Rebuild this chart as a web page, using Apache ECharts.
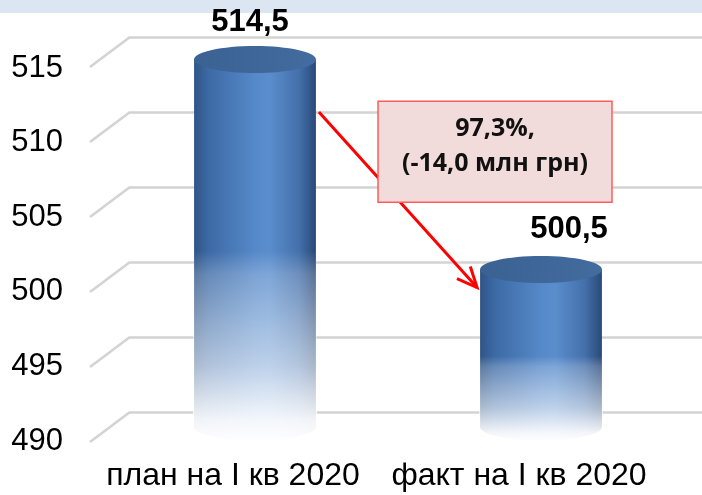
<!DOCTYPE html>
<html>
<head>
<meta charset="utf-8">
<script src="https://cdn.jsdelivr.net/npm/echarts@6/dist/echarts.min.js"></script>
<style>
  html, body { margin: 0; padding: 0; background: #fff; }
  #chart { width: 702px; height: 495px; }
</style>
</head>
<body>
<div id="chart"></div>
<script>
// дані
const categories = ['план на I кв 2020', 'факт на I кв 2020']
const values = [514.5, 500.5]
const valueLabels = ['514,5', '500,5']
const yTicks = [490, 495, 500, 505, 510, 515]
const noteLines = ['97,3%,', '(-14,0 млн грн)']
const arrowFrom = [0, 510]
const arrowTo = [1, 498.3]

// 3D-зсув: передня площина відносно задньої стінки
const DEPTH_X = -40
const DEPTH_Y = 30
const labelShift = [[-5, -8], [28, -11]]

const yMin = yTicks[0]
const yMax = yTicks[yTicks.length - 1]

var myChart = echarts.init(document.getElementById('chart'))

function cylinder (params, api) {
  const i = params.dataIndex
  const top = api.coord([api.value(0), api.value(1)])
  const base = api.coord([api.value(0), yMin])
  const cx = top[0] + DEPTH_X * 0.45
  const cy = top[1] + DEPTH_Y / 2
  const by = base[1] + DEPTH_Y / 2
  const rx = api.size([1, 0])[0] * 0.213
  const ry = 13.5
  const side = new echarts.graphic.LinearGradient(0, 0, 1, 0, [
    { offset: 0, color: '#2f5586' },
    { offset: 0.12, color: '#3c6aa5' },
    { offset: 0.5, color: '#5689c9' },
    { offset: 0.62, color: '#5a8dcc' },
    { offset: 0.86, color: '#4470ab' },
    { offset: 0.95, color: '#33578a' },
    { offset: 1, color: '#2a4a76' }
  ])
  const fade = new echarts.graphic.LinearGradient(0, 0, 0, 1, [
    { offset: 0, color: 'rgba(255,255,255,0)' },
    { offset: 0.5, color: 'rgba(255,255,255,0)' },
    { offset: 0.56, color: 'rgba(255,255,255,0.22)' },
    { offset: 0.8, color: 'rgba(255,255,255,0.6)' },
    { offset: 0.94, color: 'rgba(255,255,255,0.93)' },
    { offset: 1, color: 'rgba(255,255,255,1)' }
  ])
  const cap = new echarts.graphic.LinearGradient(0, 0, 1, 1, [
    { offset: 0, color: '#3a6192' },
    { offset: 1, color: '#436c9f' }
  ])
  return {
    type: 'group',
    children: [
      { type: 'rect', shape: { x: cx - rx, y: cy, width: rx * 2, height: by - cy }, style: { fill: side } },
      { type: 'ellipse', shape: { cx: cx, cy: by, rx: rx, ry: ry }, style: { fill: side } },
      { type: 'rect', shape: { x: cx - rx - 1, y: cy, width: rx * 2 + 2, height: by + ry + 2 - cy }, style: { fill: fade } },
      { type: 'ellipse', shape: { cx: cx, cy: cy, rx: rx, ry: ry }, style: { fill: cap } },
      {
        type: 'text',
        x: cx + labelShift[i][0],
        y: cy - ry + labelShift[i][1],
        style: {
          text: valueLabels[i],
          fill: '#000',
          font: 'bold 31px "Liberation Sans", Arial, sans-serif',
          align: 'center',
          verticalAlign: 'bottom'
        }
      }
    ]
  }
}

function depthLine (params, api) {
  const y = api.coord([0, api.value(1)])[1]
  const x = params.coordSys.x
  return {
    type: 'line',
    shape: { x1: x, y1: y, x2: x + DEPTH_X, y2: y + DEPTH_Y },
    style: { stroke: '#d3d3d3', lineWidth: 2.5 }
  }
}

function arrowNote (params, api) {
  const rx = api.size([1, 0])[0] * 0.213
  const a = api.coord(arrowFrom)
  const b = api.coord(arrowTo)
  const x1 = a[0] + DEPTH_X * 0.45 + rx + 3
  const y1 = a[1]
  const x2 = b[0] + DEPTH_X * 0.45 - rx - 3
  const y2 = b[1]
  const ang = Math.atan2(y2 - y1, x2 - x1)
  const h = 22
  const s = 0.42
  const p1 = [x2 - h * Math.cos(ang - s), y2 - h * Math.sin(ang - s)]
  const p2 = [x2 - h * Math.cos(ang + s), y2 - h * Math.sin(ang + s)]
  const mx = (x1 + x2) / 2 + 97
  const my = (y1 + y2) / 2 - 48
  const bw = 234
  const bh = 101
  return {
    type: 'group',
    children: [
      { type: 'line', shape: { x1: x1, y1: y1, x2: x2, y2: y2 }, style: { stroke: '#ff0000', lineWidth: 3 } },
      { type: 'polyline', shape: { points: [p1, [x2, y2], p2] }, style: { stroke: '#ff0000', lineWidth: 3, fill: null } },
      { type: 'rect', shape: { x: mx - bw / 2, y: my - bh / 2, width: bw, height: bh }, style: { fill: '#f2dcdb', stroke: '#ff5c5c', lineWidth: 1.5 } },
      {
        type: 'text',
        x: mx,
        y: my - 5,
        style: {
          text: noteLines.join('\n'),
          fill: '#111',
          font: 'bold 25px "Open Sans", sans-serif',
          lineHeight: 35,
          align: 'center',
          verticalAlign: 'middle'
        }
      }
    ]
  }
}

myChart.setOption({
  animation: false,
  backgroundColor: '#fff',
  graphic: [
    { type: 'rect', left: 0, top: 0, shape: { width: 702, height: 13 }, style: { fill: '#dce6f2' } }
  ],
  grid: [
    { left: 130, right: 0, top: 37, bottom: 83 }, // задня стінка
    { left: 90, right: 40, top: 68, bottom: 54 } // передня площина (підписи)
  ],
  xAxis: [
    { type: 'category', gridIndex: 0, data: categories, show: false },
    {
      type: 'category',
      gridIndex: 1,
      data: categories,
      axisLine: { show: false },
      axisTick: { show: false },
      axisLabel: {
        interval: 0,
        hideOverlap: false,
        margin: 19,
        color: '#000',
        fontSize: 32,
        fontFamily: 'Liberation Sans, Arial, sans-serif'
      }
    }
  ],
  yAxis: [
    {
      type: 'value',
      gridIndex: 0,
      min: yMin,
      max: yMax,
      interval: 5,
      axisLine: { show: false },
      axisTick: { show: false },
      axisLabel: { show: false },
      splitLine: { lineStyle: { color: '#d3d3d3', width: 2.5 } }
    },
    {
      type: 'value',
      gridIndex: 1,
      min: yMin,
      max: yMax,
      interval: 5,
      axisLine: { show: false },
      axisTick: { show: false },
      splitLine: { show: false },
      axisLabel: {
        margin: 27,
        color: '#000',
        fontSize: 31,
        fontFamily: 'Liberation Sans, Arial, sans-serif'
      }
    }
  ],
  series: [
    {
      type: 'custom',
      name: 'depth',
      xAxisIndex: 0,
      yAxisIndex: 0,
      z: 1,
      silent: true,
      renderItem: depthLine,
      data: yTicks.map(v => [0, v])
    },
    {
      type: 'custom',
      name: 'values',
      xAxisIndex: 0,
      yAxisIndex: 0,
      z: 2,
      renderItem: cylinder,
      encode: { x: 0, y: 1 },
      data: values.map((v, i) => [i, v])
    },
    {
      type: 'custom',
      name: 'note',
      xAxisIndex: 0,
      yAxisIndex: 0,
      z: 3,
      silent: true,
      renderItem: arrowNote,
      data: [[0, yMin]]
    }
  ]
})
</script>
</body>
</html>
